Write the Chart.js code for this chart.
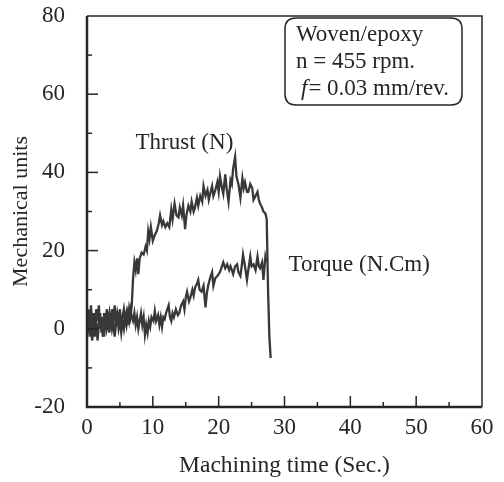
<!DOCTYPE html>
<html>
<head>
<meta charset="utf-8">
<script src="https://cdn.jsdelivr.net/npm/chart.js@4.4.1/dist/chart.umd.min.js"></script>
<style>
  html, body { margin: 0; padding: 0; background: #ffffff; }
  canvas { display: block; }
</style>
</head>
<body>
<canvas id="c" width="504" height="482"></canvas>
<script>
// Drilling record: thrust force and torque against machining time
const thrustTime = [
  0, 0.2, 0.4, 0.6, 0.8, 1.0, 1.2, 1.4, 1.6, 1.8, 2.0, 2.2, 2.4, 2.6, 2.8, 3.0, 3.2, 3.4, 3.6, 3.8,
  4.0, 4.2, 4.4, 4.6, 4.8, 5.0, 5.2, 5.4, 5.6, 5.8, 6.0, 6.2, 6.4, 6.6, 6.8,
  7.0, 7.2, 7.4, 7.6, 7.8, 8.0, 8.3, 8.6, 8.9, 9.1, 9.3, 9.5, 9.7, 10.0, 10.3, 10.6, 10.9, 11.1,
  11.4, 11.6, 11.9, 12.2, 12.5, 12.8, 13.0, 13.3, 13.6, 13.9, 14.1, 14.4, 14.6, 14.9, 15.1, 15.4,
  15.7, 15.9, 16.2, 16.4, 16.7, 16.9, 17.2, 17.5, 17.7, 18.0, 18.3, 18.5, 18.7, 19.0, 19.2, 19.5,
  19.8, 20.0, 20.2, 20.5, 20.7, 21.0, 21.2, 21.5, 21.8, 22.0, 22.2, 22.5, 22.7, 23.0, 23.3, 23.6,
  23.8, 24.0, 24.3, 24.5, 24.8, 25.1, 25.3, 25.6, 25.9, 26.1, 26.3, 26.6, 26.8, 27.1, 27.3, 27.5,
  27.7, 27.9
];
const thrustValues = [
  0, 5, -2, 6, 1, 4, -1, 5, 2, 6, 0, 3, -2, 4, 1, 5, 2, 4, 0, 5,
  2, 6, 1, 4, 2, 5, 1, 3, 5, 2, 4, 1, 5, 3, 6,
  13, 17, 15, 18, 14, 18, 19.5, 19, 21, 20, 25, 23, 26, 22.5, 24, 25, 27, 29,
  26.5, 27.5, 26, 27, 26, 30.5, 28, 32, 29, 28.5, 31, 29, 31.5, 25.5, 29, 31.5,
  30, 32.5, 30, 31, 33.5, 31.5, 34, 32.5, 36.5, 34, 35.5, 33, 34.5, 36.5, 34, 35.5,
  37.5, 35, 39, 36, 34.5, 39.5, 36, 32.5, 38, 37, 41, 44, 39, 37, 33.5, 38.5,
  36, 37.5, 35, 35, 37, 36, 33, 34, 35, 33, 32, 31, 30, 29.5, 28, 10,
  -2, -7.5
];

const torqueTime = [
  0, 0.2, 0.4, 0.6, 0.8, 1.0, 1.2, 1.4, 1.6, 1.8, 2.0, 2.2, 2.4, 2.6, 2.8, 3.0, 3.2, 3.4, 3.6, 3.8,
  4.0, 4.2, 4.4, 4.6, 4.8, 5.0, 5.2, 5.4, 5.6, 5.8, 6.0, 6.2, 6.4, 6.6, 6.8, 7.0, 7.2, 7.4, 7.6, 7.8,
  8.0, 8.2, 8.4, 8.6, 8.8, 9.0, 9.2, 9.4, 9.6, 9.8, 10.1, 10.3, 10.5, 10.8, 11.0, 11.2, 11.4, 11.6,
  11.8, 12.0, 12.2, 12.4, 12.6, 12.8, 13.0, 13.2, 13.5, 13.8, 14.0, 14.3, 14.6, 14.8, 15.0, 15.2,
  15.5, 15.7, 16.0, 16.2, 16.4, 16.7, 16.9, 17.1, 17.4, 17.7, 18.0, 18.2, 18.4, 18.7, 19.0, 19.2,
  19.5, 19.8, 20.0, 20.2, 20.5, 20.7, 21.0, 21.3, 21.6, 21.8, 22.0, 22.2, 22.5, 22.8, 23.0, 23.3,
  23.5, 23.7, 24.0, 24.3, 24.5, 24.8, 25.0, 25.3, 25.6, 25.9, 26.1, 26.3, 26.6, 26.8, 27.1, 27.3
];
const torqueValues = [
  2, -1, 4, 0, -3, 3, -2, 2, -3, 1, 4, -1, 2, -2, 3, 0, 2, -1, 3, 0,
  2, -2, 1, 3, 0, 2, -1, 2, 0, 3, 1, 4, 2, 5, 3, 2, 4, 1, 3, 0,
  2, 4, 1, 3, -1.5, 1, -1, 2, 0.5, 3, 2, 4.5, 2, 3.5, 1, 3, 0.5, 3,
  2.5, 4, 5, 6, 3, 2, 4, 3, 5, 3.5, 4, 6, 7, 5, 8, 9.5,
  7, 8, 10, 8.5, 10.5, 11.5, 12.5, 10, 9.5, 11, 5.5, 9, 11, 13, 14.5, 11,
  13, 13.5, 14, 14.5, 16, 17, 15.5, 16.5, 15, 16, 15, 14, 16, 16.5, 14.5, 13.5,
  16, 19, 16, 12.5, 15, 18.5, 16, 16.5, 15, 18.5, 16, 15.5, 17, 12.5, 18.5, 17
];

const xTickValues = [0, 10, 20, 30, 40, 50, 60];
const yTickValues = [-20, 0, 20, 40, 60, 80];

const SERIF = "'Liberation Serif', 'DejaVu Serif', serif";
const INK = '#262626';
const TRACE = '#383838';
const TEXT_PX = 23;

const toPoints = (xs, ys) => xs.map((x, i) => ({ x: x, y: ys[i] }));

// Frame, inward tick marks, curve captions and the test-condition box
const decorations = {
  id: 'decorations',
  beforeDraw(chart) {
    const ctx = chart.ctx;
    ctx.save();
    ctx.fillStyle = '#ffffff';
    ctx.fillRect(0, 0, chart.width, chart.height);
    ctx.restore();
  },
  afterDraw(chart) {
    const ctx = chart.ctx;
    const a = chart.chartArea;
    const xs = chart.scales.x;
    const ys = chart.scales.y;
    ctx.save();
    ctx.strokeStyle = INK;

    // box around the plot
    ctx.lineWidth = 1.5;
    ctx.beginPath();
    ctx.moveTo(a.left, a.top);
    ctx.lineTo(a.right, a.top);
    ctx.lineTo(a.right, a.bottom);
    ctx.stroke();
    ctx.lineWidth = 2.5;
    ctx.beginPath();
    ctx.moveTo(a.left, a.top);
    ctx.lineTo(a.left, a.bottom);
    ctx.lineTo(a.right, a.bottom);
    ctx.stroke();

    // inward ticks on the bottom axis (major every 10 s, minor every 5 s)
    ctx.lineWidth = 1.5;
    for (let v = 5; v < 60; v += 5) {
      const px = xs.getPixelForValue(v);
      const len = v % 10 === 0 ? 11 : 5;
      ctx.beginPath();
      ctx.moveTo(px, a.bottom);
      ctx.lineTo(px, a.bottom - len);
      ctx.stroke();
    }
    // inward ticks on the left axis (major every 20, minor every 10)
    for (let v = -10; v < 80; v += 10) {
      const py = ys.getPixelForValue(v);
      const len = v % 20 === 0 ? 11 : 5;
      ctx.beginPath();
      ctx.moveTo(a.left, py);
      ctx.lineTo(a.left + len, py);
      ctx.stroke();
    }

    // curve captions, placed in data coordinates
    ctx.fillStyle = INK;
    ctx.font = TEXT_PX + 'px ' + SERIF;
    ctx.textBaseline = 'middle';
    ctx.textAlign = 'center';
    ctx.fillText('Thrust (N)', xs.getPixelForValue(14.8), ys.getPixelForValue(47.5));
    ctx.textAlign = 'left';
    ctx.fillText('Torque (N.Cm)', xs.getPixelForValue(30.6), ys.getPixelForValue(16.3));

    // drilling-condition box
    const bx = 285, by = 18, bw = 177, bh = 87, r = 11;
    ctx.lineWidth = 1.5;
    ctx.beginPath();
    ctx.moveTo(bx + r, by);
    ctx.lineTo(bx + bw - r, by);
    ctx.quadraticCurveTo(bx + bw, by, bx + bw, by + r);
    ctx.lineTo(bx + bw, by + bh - r);
    ctx.quadraticCurveTo(bx + bw, by + bh, bx + bw - r, by + bh);
    ctx.lineTo(bx + r, by + bh);
    ctx.quadraticCurveTo(bx, by + bh, bx, by + bh - r);
    ctx.lineTo(bx, by + r);
    ctx.quadraticCurveTo(bx, by, bx + r, by);
    ctx.stroke();

    ctx.textBaseline = 'alphabetic';
    ctx.textAlign = 'left';
    ctx.font = TEXT_PX + 'px ' + SERIF;
    ctx.fillText('Woven/epoxy', 296, 41);
    ctx.fillText('n = 455 rpm.', 296, 68);
    ctx.font = 'italic ' + TEXT_PX + 'px ' + SERIF;
    ctx.fillText('f', 301, 95);
    const fw = ctx.measureText('f').width;
    ctx.font = TEXT_PX + 'px ' + SERIF;
    ctx.fillText('= 0.03 mm/rev.', 301 + fw + 1, 95);
    ctx.restore();
  }
};

new Chart(document.getElementById('c'), {
  type: 'line',
  data: {
    datasets: [
      {
        label: 'Thrust (N)',
        data: toPoints(thrustTime, thrustValues),
        borderColor: TRACE,
        borderWidth: 2.3,
        pointRadius: 0,
        tension: 0,
        fill: false
      },
      {
        label: 'Torque (N.Cm)',
        data: toPoints(torqueTime, torqueValues),
        borderColor: TRACE,
        borderWidth: 2.3,
        pointRadius: 0,
        tension: 0,
        fill: false
      }
    ]
  },
  options: {
    responsive: false,
    animation: false,
    devicePixelRatio: 1,
    layout: { padding: { left: 0, top: 16, right: 22, bottom: 0 } },
    plugins: {
      legend: { display: false },
      tooltip: { enabled: false }
    },
    scales: {
      x: {
        type: 'linear',
        min: 0,
        max: 60,
        afterBuildTicks(scale) { scale.ticks = xTickValues.map(v => ({ value: v })); },
        afterFit(scale) {
          scale.height = 75;
          scale.paddingLeft = 0;
          scale.paddingRight = 0;
        },
        grid: { display: false, drawTicks: false },
        border: { display: false },
        ticks: {
          color: INK,
          padding: 7,
          maxRotation: 0,
          font: { family: SERIF, size: TEXT_PX }
        },
        title: {
          display: true,
          text: 'Machining time (Sec.)',
          color: INK,
          padding: { top: 0, bottom: 2 },
          font: { family: SERIF, size: 23.5 }
        }
      },
      y: {
        type: 'linear',
        min: -20,
        max: 80,
        afterBuildTicks(scale) { scale.ticks = yTickValues.map(v => ({ value: v })); },
        afterFit(scale) {
          scale.width = 87;
          scale.paddingTop = 0;
          scale.paddingBottom = 0;
        },
        grid: { display: false, drawTicks: false },
        border: { display: false },
        ticks: {
          color: INK,
          padding: 22,
          font: { family: SERIF, size: TEXT_PX }
        },
        title: {
          display: true,
          text: 'Mechanical units',
          color: INK,
          padding: { top: 8, bottom: 0 },
          font: { family: SERIF, size: 22 }
        }
      }
    }
  },
  plugins: [decorations]
});
</script>
</body>
</html>
